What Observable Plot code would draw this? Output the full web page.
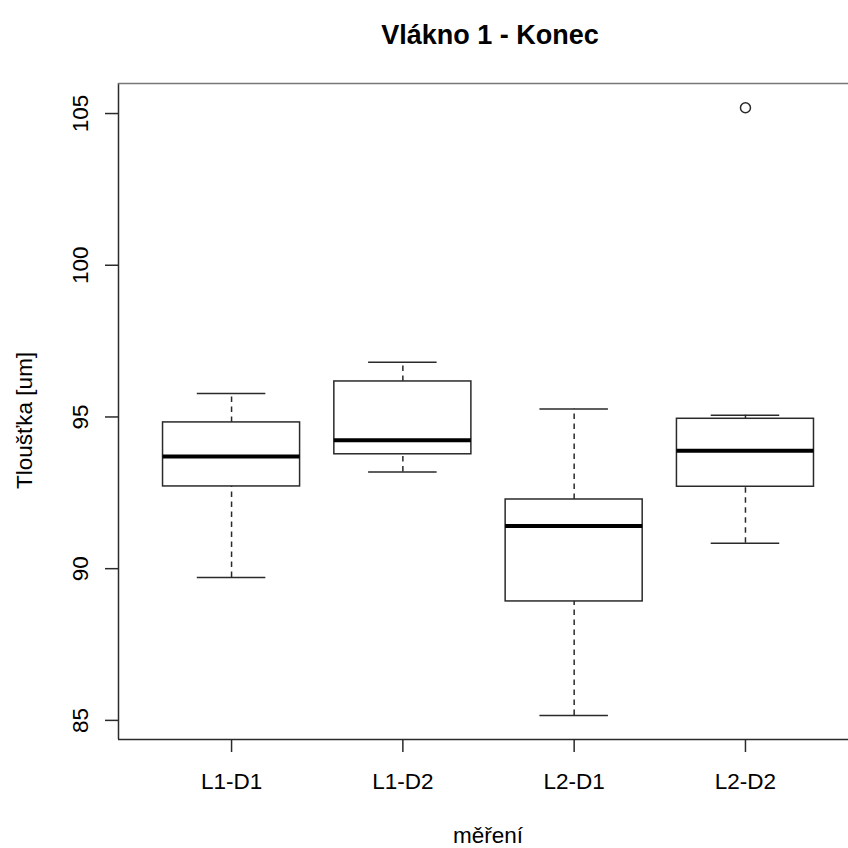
<!DOCTYPE html>
<html>
<head>
<meta charset="utf-8">
<script src="https://cdn.jsdelivr.net/npm/d3@7"></script>
<script src="https://cdn.jsdelivr.net/npm/@observablehq/plot@0.6"></script>
<style>
  html, body { margin: 0; padding: 0; background: white; overflow: hidden; }
  #chart svg { display: block; }
</style>
</head>
<body>
<div id="chart"></div>
<script>
// ---- data ----
const categories = ["L1-D1", "L1-D2", "L2-D1", "L2-D2"];
const positions  = [1, 2, 3, 4];
const lowerWhisker = [89.71, 93.19, 85.16, 90.84];
const q1           = [92.71, 93.77, 88.92, 92.70];
const median       = [93.70, 94.23, 91.41, 93.89];
const q3           = [94.82, 96.17, 92.28, 94.94];
const upperWhisker = [95.77, 96.80, 95.26, 95.06];
const outlierCategories = ["L2-D2"];
const outlierValues     = [105.19];
const yTicks = [85, 90, 95, 100, 105];

const title = "Vlákno 1 - Konec";
const xTitle = "měření";
const yTitle = "Tloušťka [um]";

// ---- table for the marks ----
const boxes = categories.map((c, i) => ({
  cat: c, pos: positions[i],
  lo: lowerWhisker[i], q1: q1[i], med: median[i], q3: q3[i], hi: upperWhisker[i]
}));
const outliers = outlierCategories.map((c, i) => ({
  pos: positions[categories.indexOf(c)], value: outlierValues[i]
}));

const boxHalf = 0.4, capHalf = 0.2;
const xDomain = [0.34, 4.6015];
const yDomain = [84.37, 105.99];
const font = "'Liberation Sans', Arial, Helvetica, sans-serif";
const ink = "#2a2a2a";

const chart = Plot.plot({
  width: 848,
  height: 848,
  marginLeft: 118,
  marginRight: 0,
  marginTop: 83,
  marginBottom: 109,
  style: { fontFamily: font, background: "white", color: "black" },
  x: { type: "linear", domain: xDomain, axis: null },
  y: { type: "linear", domain: yDomain, axis: null },
  marks: [
    // frame (left, top, bottom; right side falls outside the picture)
    Plot.ruleX([xDomain[0]], { stroke: ink, strokeWidth: 1.5 }),
    Plot.ruleY([yDomain[1]], { stroke: "#777", strokeWidth: 1.5 }),
    Plot.ruleY([yDomain[0]], { stroke: ink, strokeWidth: 1.5 }),
    // axes ticks
    Plot.axisY({ ticks: yTicks, tickSize: 13, tickFormat: () => "", stroke: ink, strokeWidth: 1.5, label: null }),
    Plot.axisX({ ticks: positions, tickSize: 13, tickFormat: () => "", stroke: ink, strokeWidth: 1.5, label: null }),
    // y tick labels (rotated like R)
    Plot.text(yTicks, {
      y: d => d, text: d => String(d), frameAnchor: "left", rotate: -90,
      textAnchor: "middle", lineAnchor: "bottom", dx: -31, fontSize: 22.5, fill: "black"
    }),
    // x tick labels
    Plot.text(boxes, {
      x: "pos", text: "cat", frameAnchor: "bottom", textAnchor: "middle",
      lineAnchor: "bottom", dy: 49, fontSize: 22.5, fill: "black"
    }),
    // whiskers (dashed)
    Plot.ruleX(boxes, { x: "pos", y1: "q3", y2: "hi", stroke: ink, strokeWidth: 1.5, strokeDasharray: "5.5,4.5" }),
    Plot.ruleX(boxes, { x: "pos", y1: "lo", y2: "q1", stroke: ink, strokeWidth: 1.5, strokeDasharray: "5.5,4.5" }),
    // whisker caps
    Plot.ruleY(boxes, { y: "hi", x1: d => d.pos - capHalf, x2: d => d.pos + capHalf, stroke: ink, strokeWidth: 1.5 }),
    Plot.ruleY(boxes, { y: "lo", x1: d => d.pos - capHalf, x2: d => d.pos + capHalf, stroke: ink, strokeWidth: 1.5 }),
    // boxes
    Plot.rect(boxes, {
      x1: d => d.pos - boxHalf, x2: d => d.pos + boxHalf, y1: "q1", y2: "q3",
      fill: "white", stroke: ink, strokeWidth: 1.5
    }),
    // medians
    Plot.ruleY(boxes, { y: "med", x1: d => d.pos - boxHalf, x2: d => d.pos + boxHalf, stroke: "black", strokeWidth: 4 }),
    // outliers
    Plot.dot(outliers, { x: "pos", y: "value", r: 5, stroke: ink, strokeWidth: 1.5, fill: "none" }),
    // titles
    Plot.text([title], {
      text: d => d, frameAnchor: "top", textAnchor: "middle", lineAnchor: "bottom",
      dx: 6.5, dy: -40, fontSize: 27, fontWeight: "bold", fill: "black"
    }),
    Plot.text([xTitle], {
      text: d => d, frameAnchor: "bottom", textAnchor: "middle", lineAnchor: "bottom",
      dx: 4.5, dy: 103, fontSize: 22.5, fill: "black"
    }),
    Plot.text([yTitle], {
      text: d => d, frameAnchor: "left", rotate: -90, textAnchor: "middle", lineAnchor: "bottom",
      dx: -87, dy: 9, fontSize: 22.5, fill: "black"
    })
  ]
});
document.getElementById("chart").appendChild(chart);
</script>
</body>
</html>
